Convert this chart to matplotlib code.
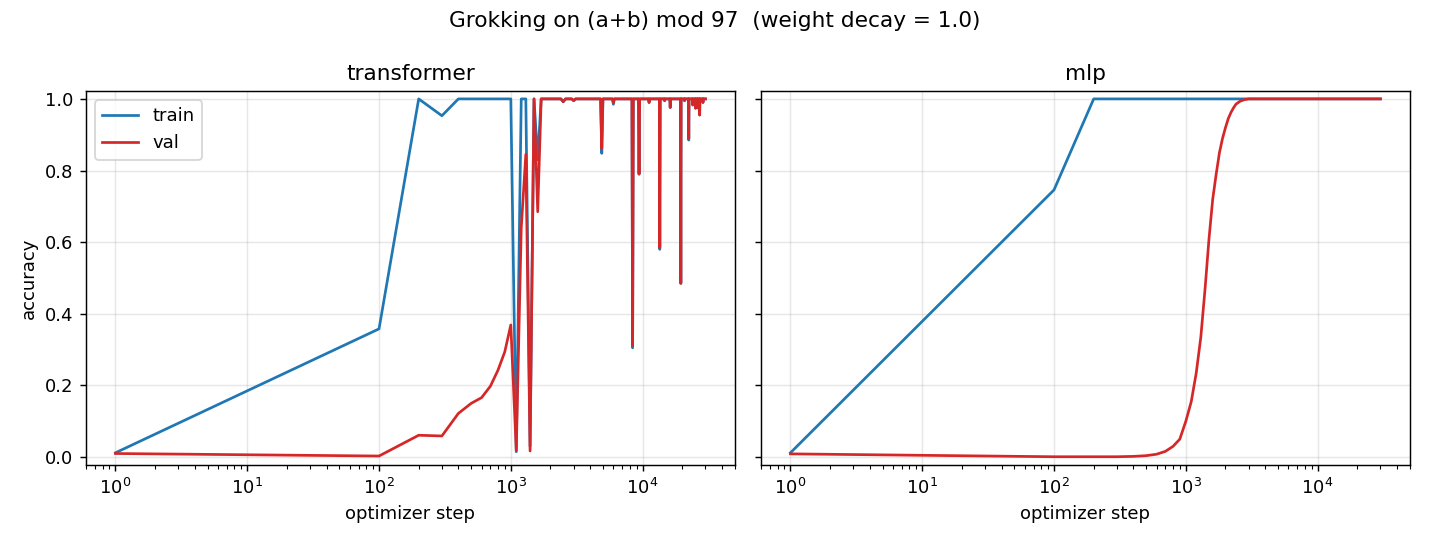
import matplotlib
matplotlib.use("Agg")
import matplotlib.pyplot as plt

# transformer run: eval steps (only where something happens + flat neighbours)
tf_steps = [1, 100, 200, 300, 400, 500, 600, 700, 800, 900, 1000,
            1100, 1200, 1300, 1400, 1500, 1600, 1700,
            2400, 2500, 2600, 2900, 3000, 3100,
            4800, 4900, 5000, 5900, 6000, 6100,
            8300, 8400, 8500, 9300, 9400, 9500,
            11100, 11200, 11300, 13400, 13500, 13600,
            14600, 14700, 14800, 16100, 16200, 16300,
            19400, 19500, 19600, 20700, 20800, 20900,
            22300, 22400, 22500, 23900, 24000, 24100,
            25100, 25200, 25300, 25900, 26000, 26100,
            27000, 27100, 27200, 28600, 28700, 28800, 30000]
tf_train = [0.012, 0.358, 1.0, 0.953, 1.0, 1.0, 1.0, 1.0, 1.0, 1.0, 1.0,
            0.015, 1.0, 1.0, 0.03, 1.0, 0.83, 1.0,
            1.0, 0.992, 1.0, 1.0, 0.995, 1.0,
            1.0, 0.848, 1.0, 1.0, 0.985, 1.0,
            1.0, 0.305, 1.0, 1.0, 0.79, 1.0,
            1.0, 0.99, 1.0, 1.0, 0.58, 1.0,
            1.0, 0.995, 1.0, 1.0, 0.976, 1.0,
            1.0, 0.485, 1.0, 1.0, 0.995, 1.0,
            1.0, 0.885, 1.0, 1.0, 0.983, 1.0,
            1.0, 0.974, 1.0, 1.0, 0.975, 1.0,
            1.0, 0.955, 1.0, 1.0, 0.99, 1.0, 1.0]
tf_val = [0.010, 0.003, 0.061, 0.059, 0.122, 0.150, 0.166, 0.198, 0.243, 0.294, 0.369,
          0.018, 0.64, 0.845, 0.017, 1.0, 0.685, 1.0,
          1.0, 0.992, 1.0, 1.0, 0.995, 1.0,
          1.0, 0.862, 1.0, 1.0, 0.99, 1.0,
          1.0, 0.312, 1.0, 1.0, 0.79, 1.0,
          1.0, 0.99, 1.0, 1.0, 0.585, 1.0,
          1.0, 0.995, 1.0, 1.0, 0.976, 1.0,
          1.0, 0.485, 1.0, 1.0, 0.995, 1.0,
          1.0, 0.89, 1.0, 1.0, 0.983, 1.0,
          1.0, 0.974, 1.0, 1.0, 0.975, 1.0,
          1.0, 0.955, 1.0, 1.0, 0.99, 1.0, 1.0]

# mlp run
mlp_train_steps = [1, 100, 200, 30000]
mlp_train = [0.012, 0.746, 1.0, 1.0]
mlp_val_steps = [1, 100, 200, 300, 400, 500, 600, 700, 800, 900, 1000,
                 1100, 1200, 1300, 1400, 1500, 1600, 1700, 1800, 1900, 2000,
                 2100, 2200, 2300, 2400, 2500, 2600, 2800, 3000, 30000]
mlp_val = [0.009, 0.001, 0.001, 0.001, 0.002, 0.004, 0.008, 0.016, 0.03, 0.05, 0.10,
           0.155, 0.235, 0.335, 0.47, 0.61, 0.72, 0.79, 0.85, 0.89, 0.92,
           0.945, 0.962, 0.975, 0.985, 0.99, 0.994, 0.998, 1.0, 1.0]

fig, axes = plt.subplots(1, 2, sharey=True, figsize=(11, 4.2), dpi=130)
fig.subplots_adjust(left=0.0601, right=0.986, top=0.8333, bottom=0.1484, wspace=0.04)

ax = axes[0]
ax.plot(tf_steps, tf_train, color='tab:blue', label='train')
ax.plot(tf_steps, tf_val, color='tab:red', label='val')
ax.set_title('transformer')
ax.legend(loc='upper left')
ax.set_ylabel('accuracy')

ax = axes[1]
ax.plot(mlp_train_steps, mlp_train, color='tab:blue', label='train')
ax.plot(mlp_val_steps, mlp_val, color='tab:red', label='val')
ax.set_title('mlp')

for ax in axes:
    ax.set_xscale('log')
    ax.set_xlabel('optimizer step')
    ax.grid(True, alpha=0.3)
axes[0].set_ylim(-0.022, 1.022)

fig.suptitle('Grokking on (a+b) mod 97  (weight decay = 1.0)')

fig.savefig('out.png')
